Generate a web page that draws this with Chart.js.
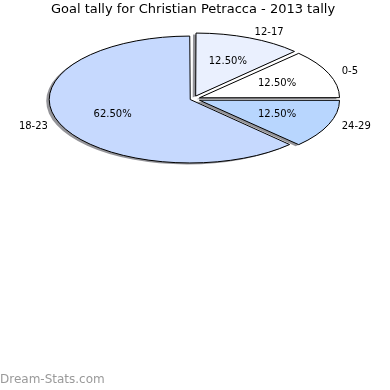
<!DOCTYPE html>
<html><head><meta charset="utf-8">
<script src="https://cdn.jsdelivr.net/npm/chart.js@4.4.0/dist/chart.umd.min.js"></script>
<style>html,body{margin:0;padding:0;background:#fff;}</style>
</head><body>
<canvas id="c" width="390" height="390"></canvas>
<script>
const titleText = 'Goal tally for Christian Petracca - 2013 tally';
const categories = ['24-29', '18-23', '12-17', '0-5'];
const goals = [1, 5, 1, 1];
const sliceColors = ['#b8d6fe', '#c6d9fe', '#eaf0fe', '#ffffff'];
const explode = [28, 12, 28, 28];
const watermark = 'Dream-Stats.com';

const SQUASH = 0.45, CENTER_Y = 99;
const FONT = '"DejaVu Sans", "Liberation Sans", sans-serif';

const ellipsePlugin = {
  id: 'ellipse',
  beforeDatasetsDraw(chart) {
    const ctx = chart.ctx, a = chart.chartArea;
    const cy = (a.top + a.bottom) / 2;
    ctx.save();
    ctx.translate(0, CENTER_Y);
    ctx.scale(1, SQUASH);
    ctx.translate(0, -cy);
    ctx.shadowColor = 'rgba(60,60,70,0.55)';
    ctx.shadowOffsetX = -3;
    ctx.shadowOffsetY = 1.5;
    ctx.shadowBlur = 0;
    const orig = CanvasRenderingContext2D.prototype.stroke;
    ctx.stroke = function () {
      this.save();
      this.setTransform(1, 0, 0, 1, 0, 0);
      this.shadowColor = 'rgba(0,0,0,0)';
      orig.apply(this, arguments);
      this.restore();
    };
  },
  afterDatasetsDraw(chart) {
    const ctx = chart.ctx;
    delete ctx.stroke;
    ctx.restore();
    const a = chart.chartArea, cy = (a.top + a.bottom) / 2;
    const meta = chart.getDatasetMeta(0);
    const total = goals.reduce((s, v) => s + v, 0);
    ctx.save();
    ctx.fillStyle = '#000';
    ctx.font = '10px ' + FONT;
    ctx.textBaseline = 'middle';
    meta.data.forEach((arc, i) => {
      const p = arc.getProps(['x', 'y', 'startAngle', 'endAngle', 'outerRadius'], true);
      const mid = (p.startAngle + p.endAngle) / 2;
      const t = (arc.options.offset || 0) / 4;
      const R = p.outerRadius + 2;
      const pt = d => ({ x: p.x + Math.cos(mid) * d, y: CENTER_Y + (p.y + Math.sin(mid) * d - cy) * SQUASH });
      const pc = pt(t + 0.6 * R);
      ctx.textAlign = 'center';
      ctx.fillText((goals[i] / total * 100).toFixed(2) + '%', pc.x, pc.y);
      const pl = pt(t + 1.1 * R);
      ctx.textAlign = Math.cos(mid) > 0 ? 'left' : 'right';
      ctx.fillText(categories[i], pl.x, pl.y);
    });
    ctx.restore();
  },
  afterDraw(chart) {
    const ctx = chart.ctx;
    ctx.save();
    ctx.font = '12px ' + FONT;
    ctx.fillStyle = '#9a9a9a';
    ctx.textAlign = 'left';
    ctx.textBaseline = 'middle';
    ctx.fillText(watermark, 0, 380);
    ctx.restore();
  }
};

new Chart(document.getElementById('c'), {
  type: 'pie',
  data: {
    labels: categories,
    datasets: [{
      data: goals,
      backgroundColor: sliceColors,
      borderColor: '#000000',
      borderWidth: 1,
      offset: explode,
      clip: false
    }]
  },
  options: {
    responsive: false,
    animation: false,
    events: [],
    rotation: 90,
    radius: 138,
    layout: { padding: { right: 4 } },
    plugins: {
      legend: { display: false },
      tooltip: { enabled: false },
      title: {
        display: true,
        text: titleText,
        color: '#000',
        font: { family: FONT, size: 13, weight: 'normal' },
        padding: { top: 2, bottom: 0 }
      }
    }
  },
  plugins: [ellipsePlugin]
});
</script>
</body></html>
